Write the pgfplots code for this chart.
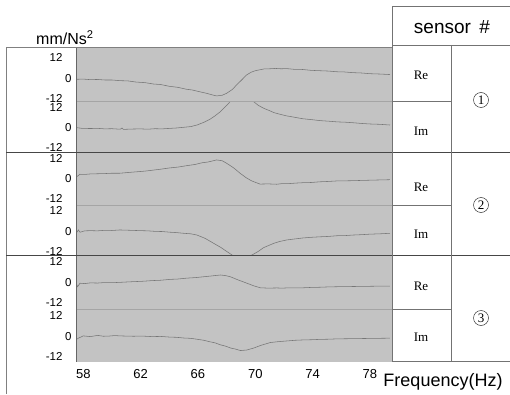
\documentclass[border=0pt]{standalone}
\usepackage{fontspec}
\setmainfont{Liberation Sans}
\newfontfamily\seriffont{Liberation Serif}
\usepackage{pgfplots}
\pgfplotsset{compat=1.18}
\definecolor{bggray}{RGB}{195,195,195}
\definecolor{curvecol}{RGB}{118,118,118}
\definecolor{sepcol}{RGB}{165,165,165}
\definecolor{tabline}{RGB}{70,70,70}
\pgfplotsset{
 sub/.style={
  scale only axis, width=315pt,
  xmin=57.54, xmax=79.52,
  axis background/.style={fill=bggray},
  axis line style={draw=none},
  tick style={draw=none},
  xtick=\empty,
  ytick={0}, yticklabels={0},
  extra y ticks={-12,12},
  extra y tick labels={\raisebox{3pt}{-12},12},
  yticklabel style={font=\fontsize{11.5}{11.5}\selectfont, inner sep=0pt, xshift=-5pt},
  extra y tick style={yticklabel style={xshift=-9pt}},
  every axis plot post/.append style={color=curvecol, line width=0.55pt, mark=none},
 }
}
\begin{document}
\begin{tikzpicture}
\path[use as bounding box] (0pt,0pt) rectangle (510pt,394pt);
% Re1
\begin{axis}[sub, at={(76.7pt,292.3pt)}, anchor=south west, height=53.4pt, ymin=-13.0, ymax=17.5]
\addplot coordinates {(57.54,-0.2)(58.0,-0.1)(58.5,-0.4)(59.0,-0.3)(59.5,-0.6)(60.0,-0.6)(60.58,-1.0)(61.1,-1.1)(61.7,-1.8)(62.3,-2.1)(62.9,-2.9)(63.4,-3.2)(64.0,-4.2)(64.6,-4.8)(65.2,-5.9)(65.6,-6.3)(66.0,-7.1)(66.6,-8.2)(67.0,-9.1)(67.3,-9.7)(67.7,-9.3)(68.0,-8.2)(68.4,-6.0)(68.7,-3.4)(69.0,-1.0)(69.4,2.3)(69.7,3.8)(70.0,4.7)(70.6,5.7)(71.0,5.8)(71.4,6.0)(71.8,5.8)(72.2,5.9)(72.7,5.5)(73.3,5.4)(73.9,4.9)(74.5,4.7)(75.1,4.5)(75.7,4.1)(76.2,4.0)(76.8,3.6)(77.4,3.4)(78.0,3.0)(78.7,2.8)(79.4,2.5)};
\end{axis}
% Im1
\begin{axis}[sub, at={(76.7pt,241.7pt)}, anchor=south west, height=50.6pt, ymin=-13.89, ymax=15.03]
\addplot coordinates {(57.54,0.2)(57.9,-0.2)(58.5,-0.3)(59.0,-0.2)(59.5,-0.5)(60.0,-0.4)(60.58,-0.7)(60.7,0.0)(60.8,-0.8)(61.4,-0.6)(62.0,-0.5)(62.5,-0.7)(63.0,-0.4)(63.5,-0.5)(64.07,-0.2)(64.5,0.0)(65.0,0.4)(65.5,0.8)(65.93,1.7)(66.4,3.2)(66.86,5.1)(67.2,7.0)(67.56,9.3)(68.03,13.1)(68.26,15.2)(68.6,17.5)(69.1,18.5)(69.6,17.0)(69.88,15.1)(70.2,13.0)(70.58,11.3)(71.0,9.9)(71.3,8.8)(71.7,7.9)(72.2,6.9)(72.7,6.2)(73.3,5.3)(73.9,4.8)(74.55,4.2)(75.1,3.9)(75.7,3.5)(76.3,3.3)(76.84,3.0)(77.4,2.6)(78.0,2.3)(78.7,2.1)(79.4,1.7)};
\end{axis}
% Re2
\begin{axis}[sub, at={(76.7pt,189pt)}, anchor=south west, height=52.7pt, ymin=-14.86, ymax=15.26]
\addplot coordinates {(57.54,1.3)(57.77,2.7)(58.1,2.6)(58.5,2.9)(59.0,3.0)(59.5,3.1)(60.0,3.3)(60.56,3.3)(61.1,3.7)(61.7,4.1)(62.3,4.5)(62.9,5.1)(63.4,5.6)(64.0,6.3)(64.6,6.8)(65.2,7.6)(65.8,8.3)(66.3,9.3)(66.7,9.7)(67.0,10.3)(67.3,10.9)(67.7,10.4)(68.0,9.0)(68.5,6.3)(68.94,3.3)(69.35,0.8)(69.75,-1.1)(70.33,-2.9)(70.9,-2.8)(71.5,-3.0)(71.9,-2.6)(72.4,-2.6)(72.9,-2.3)(73.36,-2.1)(73.9,-2.0)(74.5,-1.6)(75.1,-1.4)(75.7,-1.1)(76.6,-1.0)(77.5,-0.8)(78.4,-0.6)(79.4,-0.4)};
\end{axis}
% Im2
\begin{axis}[sub, at={(76.7pt,139pt)}, anchor=south west, height=50pt, ymin=-13.31, ymax=15.26]
\addplot coordinates {(57.54,-0.5)(57.66,1.0)(57.77,-0.3)(58.1,0.5)(58.5,0.6)(59.0,0.5)(59.5,0.8)(60.0,0.7)(60.56,1.0)(61.3,0.8)(62.0,0.6)(62.5,0.5)(63.0,0.2)(63.5,0.1)(64.07,-0.3)(64.5,-0.5)(65.0,-0.9)(65.5,-1.2)(65.93,-1.9)(66.5,-3.8)(67.09,-6.6)(67.6,-9.0)(68.03,-11.4)(68.49,-13.9)(68.96,-14.5)(69.4,-14.2)(69.77,-13.3)(70.2,-11.3)(70.58,-9.1)(71.3,-6.6)(71.7,-5.6)(72.2,-4.7)(72.7,-4.2)(73.3,-3.6)(73.9,-3.2)(74.55,-2.9)(75.1,-2.7)(75.7,-2.3)(76.3,-2.2)(76.84,-1.9)(77.4,-1.7)(78.0,-1.4)(78.7,-1.2)(79.4,-0.9)};
\end{axis}
% Re3
\begin{axis}[sub, at={(76.7pt,85pt)}, anchor=south west, height=54pt, ymin=-15.03, ymax=15.83]
\addplot coordinates {(57.54,-1.0)(57.6,-2.3)(57.77,-0.3)(58.1,-0.5)(58.5,-0.1)(59.0,-0.2)(59.5,0.1)(60.0,0.0)(60.56,0.2)(61.0,0.4)(61.5,0.6)(62.1,0.8)(62.8,1.2)(63.4,1.4)(64.07,1.9)(64.6,2.1)(65.2,2.6)(65.8,2.9)(66.4,3.4)(67.0,3.9)(67.56,4.4)(67.9,4.1)(68.26,3.4)(68.8,1.6)(69.42,-0.3)(69.9,-1.8)(70.35,-2.9)(70.9,-3.1)(71.5,-3.0)(71.9,-3.1)(72.4,-2.9)(72.9,-3.0)(73.37,-2.9)(73.9,-2.7)(74.5,-2.6)(75.1,-2.4)(75.7,-2.3)(76.6,-2.2)(77.5,-2.1)(78.4,-2.0)(79.4,-1.9)};
\end{axis}
% Im3
\begin{axis}[sub, at={(76.7pt,32.3pt)}, anchor=south west, height=52.7pt, ymin=-14.4, ymax=15.83,
  xtick={58,62,66,70,74,78}, xticklabels={58,62,66,70,74,\raisebox{3pt}{78}},
  xticklabel style={font=\fontsize{13}{13}\selectfont, inner sep=0pt, yshift=-8pt}]
\addplot coordinates {(57.54,-1.5)(57.66,-0.9)(58.0,0.4)(58.5,0.0)(59.0,0.7)(59.4,0.2)(59.8,0.3)(60.2,0.6)(60.56,0.4)(61.0,0.3)(61.5,0.2)(62.1,0.3)(62.8,0.0)(63.4,0.1)(64.07,-0.3)(64.5,-0.4)(65.0,-0.8)(65.5,-1.0)(65.93,-1.5)(66.4,-2.1)(66.8,-2.9)(67.2,-3.6)(67.56,-4.7)(67.9,-5.4)(68.3,-6.6)(68.6,-7.1)(68.96,-8.0)(69.4,-7.7)(69.88,-6.6)(70.4,-5.0)(71.05,-3.4)(71.6,-2.9)(72.2,-2.5)(72.8,-2.1)(73.37,-1.9)(73.9,-1.8)(74.5,-1.6)(75.1,-1.5)(75.7,-1.3)(76.6,-1.2)(77.5,-1.1)(78.4,-1.0)(79.4,-0.9)};
\end{axis}
% frame and separators
\draw[sepcol, line width=0.6pt] (76.7pt,292.3pt) -- (392.3pt,292.3pt);
\draw[sepcol, line width=0.6pt] (76.7pt,189pt) -- (392.3pt,189pt);
\draw[sepcol, line width=0.6pt] (76.7pt,85pt) -- (392.3pt,85pt);
\draw[gray!80!black, line width=1.2pt] (76.7pt,346pt) -- (76.7pt,32.3pt);
\draw[gray, line width=1pt] (6pt,346pt) -- (392.3pt,346pt);
\draw[gray, line width=1pt] (6pt,346pt) -- (6pt,0pt);
\draw[tabline, line width=0.7pt] (6pt,241.7pt) -- (510pt,241.7pt);
\draw[tabline, line width=0.7pt] (6pt,139pt) -- (510pt,139pt);
% table
\draw[gray!90!black, line width=0.6pt] (510pt,388pt) -- (392.3pt,388pt) -- (392.3pt,349pt) -- (510pt,349pt);
\draw[gray!90!black, line width=0.6pt] (392.3pt,349pt) -- (392.3pt,32.3pt) -- (510pt,32.3pt);
\draw[gray!90!black, line width=0.6pt] (451pt,349pt) -- (451pt,32.3pt);
\draw[gray!90!black, line width=0.6pt] (392.3pt,292.3pt) -- (451pt,292.3pt);
\draw[gray!90!black, line width=0.6pt] (392.3pt,189pt) -- (451pt,189pt);
\draw[gray!90!black, line width=0.6pt] (392.3pt,85pt) -- (451pt,85pt);
% texts
\node[anchor=base west, inner sep=0pt, font=\fontsize{16}{16}\selectfont] at (36pt,349.7pt) {mm/Ns\textsuperscript{2}};
\node[anchor=base, inner sep=0pt, font=\fontsize{19}{19}\selectfont] at (452pt,360.7pt) {sensor\hspace{0.45em}\#};
\node[font=\fontsize{18}{18}\selectfont, inner sep=0pt] at (443pt,12pt) {Frequency(Hz)};
\foreach \yy/\tt in {319/Re, 263/Im, 206.5/Re, 160/Im, 108/Re, 56.5/Im}{
  \node[font=\seriffont\fontsize{13}{13}\selectfont, inner sep=0pt] at (421pt,\yy pt) {\tt};
}
\foreach \yy/\nn in {294/1, 189/2, 76/3}{
  \node[circle, draw=black!80, line width=0.5pt, minimum size=15pt, inner sep=0pt, font=\seriffont\fontsize{13}{13}\selectfont] at (481pt,\yy pt) {\nn};
}
\end{tikzpicture}
\end{document}
